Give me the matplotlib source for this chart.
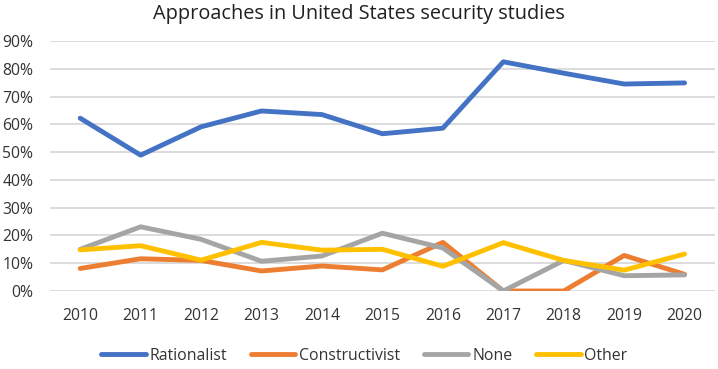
import matplotlib
matplotlib.use("Agg")
import matplotlib.pyplot as plt
from matplotlib.ticker import PercentFormatter

years = ["2010", "2011", "2012", "2013", "2014", "2015", "2016", "2017", "2018", "2019", "2020"]
rationalist = [62.2, 48.9, 59.1, 64.8, 63.5, 56.6, 58.6, 82.5, 78.4, 74.5, 74.9]
constructivist = [8.1, 11.6, 11.0, 7.2, 9.0, 7.6, 17.5, 0.0, 0.0, 12.8, 6.0]
none_ = [15.0, 23.1, 18.6, 10.7, 12.6, 20.8, 15.5, 0.0, 11.0, 5.5, 5.8]
other = [14.8, 16.3, 11.1, 17.5, 14.7, 15.0, 8.9, 17.4, 11.0, 7.5, 13.3]

series = [("Rationalist", rationalist, "#4472C4"),
          ("Constructivist", constructivist, "#ED7D31"),
          ("None", none_, "#A5A5A5"),
          ("Other", other, "#FFC000")]

plt.rcParams['font.family'] = ['Open Sans', 'DejaVu Sans']

fig = plt.figure(figsize=(7.18, 3.69), dpi=100)
ax = fig.add_axes([0.0696, 0.2114, 0.926, 0.6776])

x = list(range(len(years)))
for name, vals, col in series:
    ax.plot(x, vals, color=col, lw=3.5, label=name, solid_capstyle='round', solid_joinstyle='round')

ax.set_xlim(-0.5, len(years) - 0.5)
ax.set_ylim(0, 90)
ax.set_yticks(range(0, 91, 10))
ax.yaxis.set_major_formatter(PercentFormatter(decimals=0))
ax.set_xticks(x)
ax.set_xticklabels(years)
ax.grid(axis='y', color='#D9D9D9', lw=1.3)
ax.set_axisbelow(True)
for s in ax.spines.values():
    s.set_visible(False)
ax.tick_params(axis='both', length=0, labelsize=11.3, colors='#333333')
ax.tick_params(axis='x', pad=12)
ax.tick_params(axis='y', pad=12)

fig.suptitle("Approaches in United States security studies", y=0.99, fontsize=14.3, color='#202020')

fig.legend(loc='center', ncol=4, frameon=False, fontsize=11.4, bbox_to_anchor=(364.5 / 718, 1 - 356 / 369),
           handlelength=2.8, handletextpad=0.25, columnspacing=1.5, labelcolor='#333333')

fig.savefig("out.png", dpi=100)
